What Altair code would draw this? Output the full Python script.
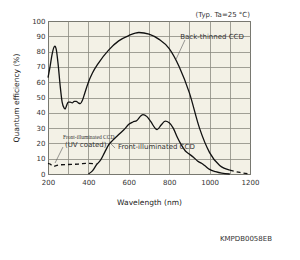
import altair as alt
import pandas as pd

# Back-thinned CCD (solid)
bt_x = [200, 210, 220, 230, 235, 240, 250, 260, 270, 280, 285, 290, 300, 310, 320, 330, 340, 350, 360, 370, 380,
        400, 420, 450, 500, 550, 600, 650, 700, 750, 800, 850, 900, 950, 1000, 1050, 1100]
bt_y = [63, 70, 78, 83, 83.5, 82, 72, 58, 47, 43, 42.5, 44, 47, 47, 46.5, 47.5, 47.5, 46.5, 46, 48, 52,
        60, 66, 72.5, 81, 87, 90.5, 92.5, 91.5, 88, 82, 70, 53, 30, 14, 5.5, 2.5]
# Back-thinned CCD tail (dashed)
btd_x = [1100, 1150, 1200]
btd_y = [2.5, 1, 0]
# Front-illuminated CCD (solid)
fi_x = [400, 420, 440, 460, 480, 500, 520, 540, 560, 580, 600, 620, 640, 660, 670, 690, 710, 730, 740, 760, 780,
        800, 820, 840, 860, 880, 900, 920, 940, 960, 980, 1000, 1030, 1060, 1100]
fi_y = [0, 2, 6, 9, 14, 19, 22, 24.5, 27, 29.5, 32.5, 34, 35, 38, 38.8, 37.5, 34, 30, 29, 32, 34.5,
        33.5, 30, 24, 19, 15, 13, 11, 8.5, 7, 5, 3, 1.5, 0.5, 0]
# Front-illuminated CCD (UV coated) (dashed)
uv_x = [200, 210, 220, 230, 240, 260, 300, 350, 400, 440]
uv_y = [7, 6.5, 5.5, 5, 5.5, 6, 6.2, 6.5, 7, 6.5]

# annotations (data coordinates)
ann_text = ["(Typ. Ta=25 °C)", "Back-thinned CCD", "Front-illuminated CCD", "(UV coated)", "KMPDB0058EB"]
ann_x = [1200, 1012, 546, 284, 1180]
ann_y = [104, 89.5, 17.6, 19, -42.5]
ann_align = ["right", "center", "left", "left", "center"]
small_text = ["Front-illuminated CCD"]
small_x = [274]
small_y = [24]
lead_x = [878, 532, 274]
lead_x2 = [834, 507, 235]
lead_y = [87.6, 17, 17.6]
lead_y2 = [75, 20.3, 7.2]

FONT = "DejaVu Sans"
INK = "#222222"

xs = alt.Scale(domain=[200, 1200], nice=False)
ys = alt.Scale(domain=[0, 100], nice=False)

x_axis = alt.Axis(title="Wavelength (nm)", values=list(range(200, 1201, 100)), format="d",
                  labelExpr="datum.value % 200 == 0 ? datum.label : ''",
                  grid=True, gridColor="#8a8a80", gridWidth=0.8, domain=False, ticks=False,
                  labelFont=FONT, labelFontSize=7, labelColor="#333", labelPadding=4,
                  titleFont=FONT, titleFontSize=7.5, titleFontWeight="normal", titleColor=INK,
                  titlePadding=13, labelFlush=False)
y_axis = alt.Axis(title="Quantum efficiency (%)", values=list(range(0, 101, 10)),
                  grid=True, gridColor="#8a8a80", gridWidth=0.8, domain=False, ticks=False,
                  labelFont=FONT, labelFontSize=7, labelColor="#333", labelPadding=3,
                  titleFont=FONT, titleFontSize=7.5, titleFontWeight="normal", titleColor=INK,
                  titlePadding=11, labelFlush=False)

X = lambda f: alt.X(f, scale=xs, axis=x_axis)
Y = lambda f: alt.Y(f, scale=ys, axis=y_axis)

def line_layer(xv, yv, dash=None):
    df = pd.DataFrame({"x": xv, "y": yv, "o": range(len(xv))})
    kw = {}
    if dash:
        kw["strokeDash"] = dash
    m = alt.Chart(df).mark_line(color="#111", strokeWidth=1.3, interpolate="monotone", **kw)
    return m.encode(x=X("x:Q"), y=Y("y:Q"), order="o:Q")

bt = line_layer(bt_x, bt_y)
btd = line_layer(btd_x, btd_y, dash=[4, 3])
fi = line_layer(fi_x, fi_y)
uv = line_layer(uv_x, uv_y, dash=[4, 3])

lead_df = pd.DataFrame({"x": lead_x, "x2": lead_x2, "y": lead_y, "y2": lead_y2})
leads = alt.Chart(lead_df).mark_rule(color="#555", strokeWidth=0.6).encode(
    x=X("x:Q"), x2="x2:Q", y=Y("y:Q"), y2="y2:Q")

ann_df = pd.DataFrame({"t": ann_text, "x": ann_x, "y": ann_y, "a": ann_align})
texts = []
for al in ["left", "center", "right"]:
    sub = ann_df[ann_df["a"] == al]
    texts.append(alt.Chart(sub).mark_text(font=FONT, fontSize=7, color="#333", align=al,
                                           baseline="middle", clip=False).encode(
        x=X("x:Q"), y=Y("y:Q"), text="t:N"))

small_df = pd.DataFrame({"t": small_text, "x": small_x, "y": small_y})
small = alt.Chart(small_df).mark_text(font="Liberation Sans Narrow", fontSize=5.5, color="#333",
                                      align="left", baseline="middle", clip=False).encode(
    x=X("x:Q"), y=Y("y:Q"), text="t:N")

chart = alt.layer(bt, btd, fi, uv, leads, *texts, small).properties(
    width=202, height=153,
    autosize="none",
    padding={"left": 48, "top": 21, "right": 50, "bottom": 86},
    background="white",
).configure_view(fill="#f3f1e6", stroke="#333", strokeWidth=1)

chart.save("out.html", embed_options={"renderer": "svg", "actions": False})
